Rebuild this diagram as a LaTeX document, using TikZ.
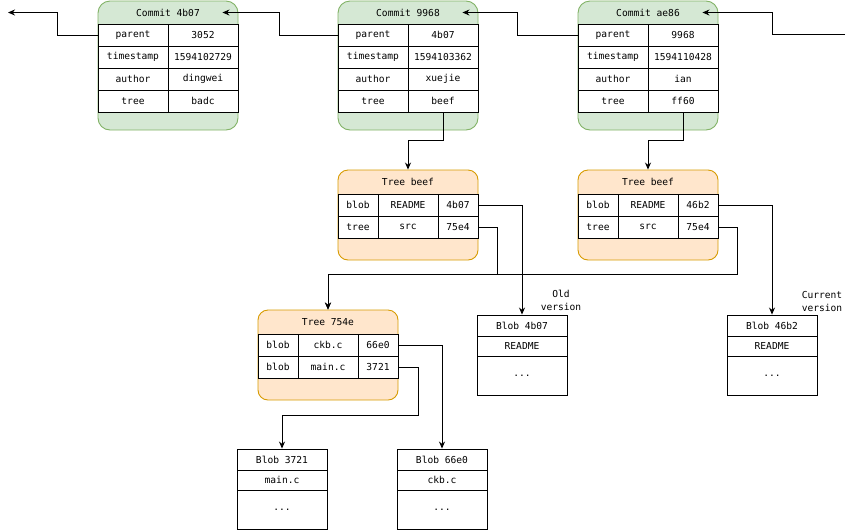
\documentclass[tikz,border=0pt]{standalone}
\usepackage{fontspec}
\setmonofont{DejaVu Sans Mono}
\usetikzlibrary{arrows.meta}

\definecolor{commitfill}{HTML}{D5E8D4}
\definecolor{commitline}{HTML}{82B366}
\definecolor{treefill}{HTML}{FFE6CC}
\definecolor{treeline}{HTML}{D79B00}

\begin{document}
\begin{tikzpicture}[x=1pt, y=-1pt, line width=0.9pt, >={Stealth[length=7pt,width=6pt]},
        font=\ttfamily\fontsize{9.6}{13}\selectfont,
        commit/.style={draw=commitline, fill=commitfill, rounded corners=12pt, minimum width=140pt, minimum height=129pt},
        treebox/.style={draw=treeline, fill=treefill, rounded corners=10pt, minimum width=140pt, minimum height=90pt},
        cell/.style={draw, fill=white, inner sep=0pt, minimum height=22pt}]
        \useasboundingbox (0,0) rectangle (858,531);

        % commits
        \foreach \n/\x/\p/\t/\a/\r in {4b07/168/3052/1594102729/dingwei/badc,
                9968/408/4b07/1594103362/xuejie/beef, ae86/648/9968/1594110428/ian/ff60} {
            \node (c\n) at (\x,65.5) [commit] {};
            \node (c\n-t) at (\x,12.5) [minimum width=140pt, inner sep=0pt] {Commit \n};
            \foreach \k/\v [count=\i] in {parent/\p, timestamp/\t, author/\a, tree/\r} {
                \node (c\n-k\i) at ({\x-35},{13+22*\i}) [cell, minimum width=70pt] {\k};
                \node (c\n-v\i) at ({\x+35},{13+22*\i}) [cell, minimum width=70pt] {\v};
            }
        }

        % trees
        \node (tbeef) at (408,215) [treebox] {};
        \node (tbeef-t) at (408,182) {Tree beef};
        \foreach \a/\b/\c [count=\i] in {blob/README/4b07, tree/src/75e4} {
            \node (tbeef-a\i) at (358,{183+22*\i}) [cell, minimum width=40pt] {\a};
            \node (tbeef-b\i) at (408,{183+22*\i}) [cell, minimum width=60pt] {\b};
            \node (tbeef-h\i) at (458,{183+22*\i}) [cell, minimum width=40pt] {\c};
        }
        \node (tff60) at (648,215) [treebox] {};
        \node (tff60-t) at (648,182) {Tree beef};
        \foreach \a/\b/\c [count=\i] in {blob/README/46b2, tree/src/75e4} {
            \node (tff60-a\i) at (598,{183+22*\i}) [cell, minimum width=40pt] {\a};
            \node (tff60-b\i) at (648,{183+22*\i}) [cell, minimum width=60pt] {\b};
            \node (tff60-h\i) at (698,{183+22*\i}) [cell, minimum width=40pt] {\c};
        }
        \node (t754e) at (328,355) [treebox] {};
        \node (t754e-t) at (328,322) {Tree 754e};
        \foreach \a/\b/\c [count=\i] in {blob/ckb.c/66e0, blob/main.c/3721} {
            \node (t754e-a\i) at (278,{323+22*\i}) [cell, minimum width=40pt] {\a};
            \node (t754e-b\i) at (328,{323+22*\i}) [cell, minimum width=60pt] {\b};
            \node (t754e-h\i) at (378,{323+22*\i}) [cell, minimum width=40pt] {\c};
        }

        % blobs
        \foreach \n/\x/\y/\f in {4b07/522/315/README, 46b2/772/315/README, 3721/282/449/main.c, 66e0/442/449/ckb.c} {
            \node (b\n) at (\x,{\y+10.5}) [cell, minimum width=90pt, minimum height=21pt] {Blob \n};
            \node (b\n-f) at (\x,{\y+31}) [cell, minimum width=90pt, minimum height=20pt] {\f};
            \node (b\n-d) at (\x,{\y+60.5}) [cell, minimum width=90pt, minimum height=39pt] {...};
        }

        \node (oldlbl) at (561,300) [align=center] {Old\\version};
        \node (curlbl) at (822,301) [align=center] {Current\\version};

        % parent links
        \coordinate (head) at (845,34);
        \coordinate (root) at (8,12.5);
        \draw [->] (head) -- ++(-73,0) |- ([xshift=-16pt]cae86-t.east);
        \draw [->] (cae86-k1.west) -- ++(-60,0) |- ([xshift=-16pt]c9968-t.east);
        \draw [->] (c9968-k1.west) -- ++(-58,0) |- ([xshift=-16pt]c4b07-t.east);
        \draw [->] (c4b07-k1.west) -- ++(-40,0) |- (root);

        % tree links
        \draw [->] (c9968-v4.south) -- ++(0,28) -| (tbeef.north);
        \draw [->] (cae86-v4.south) -- ++(0,28) -| (tff60.north);
        \draw [->] (tbeef-h1.east) -| (b4b07.north);
        \draw [->] (tbeef-h2.east) -- ++(19,0) -- ++(0,47) -| (t754e.north);
        \draw [->] (tff60-h1.east) -| (b46b2.north);
        \draw [->] (tff60-h2.east) -- ++(19,0) -- ++(0,47) -| (t754e.north);
        \draw [->] (t754e-h1.east) -| (b66e0.north);
        \draw [->] (t754e-h2.east) -- ++(20,0) -- ++(0,48) -| (b3721.north);
\end{tikzpicture}
\end{document}
